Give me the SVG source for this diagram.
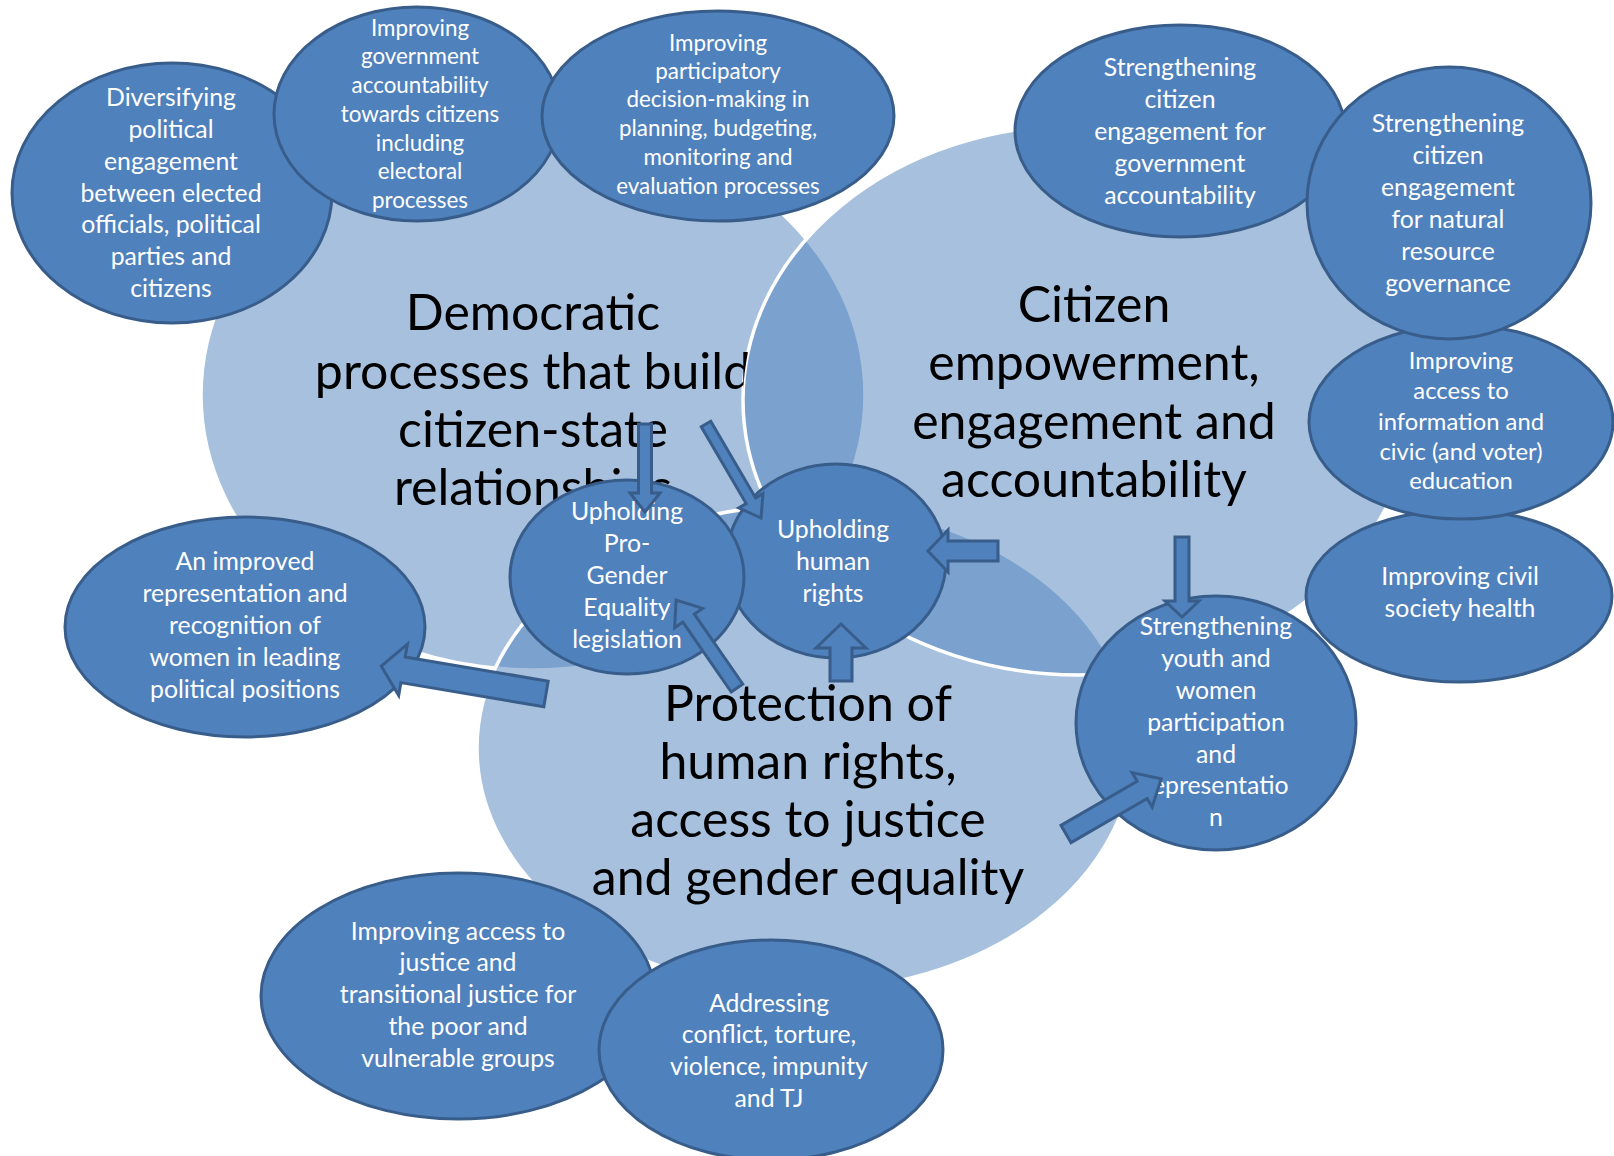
<svg xmlns="http://www.w3.org/2000/svg" width="1614" height="1156" viewBox="0 0 1614 1156">
<style>
.big{fill:#4F81BD;fill-opacity:0.5;stroke:#FFFFFF;stroke-width:3.5}
.nd{fill:#4F81BD;stroke:#385D8A;stroke-width:3}
.nt{font-family:Lato,"Liberation Sans",sans-serif;fill:#FFFFFF;text-anchor:middle;font-size:24.8px}
.ns{font-size:22.4px}
.bt{font-family:Lato,"Liberation Sans",sans-serif;fill:#000000;text-anchor:middle;font-size:50px}
.ar{fill:#4F81BD;stroke:#385D8A;stroke-width:3;stroke-linejoin:miter}
</style>
<defs>
<clipPath id="outC"><path clip-rule="evenodd" d="M0,0H1614V1156H0Z M743,400a335,275 0 1,0 670,0a335,275 0 1,0 -670,0Z"/></clipPath>
</defs>
<rect width="1614" height="1156" fill="#FFFFFF"/>
<g id="venn">
<g id="democratic">
<ellipse class="big" cx="533" cy="395" rx="332" ry="275"/>
</g>
<g id="protection">
<ellipse class="big" cx="805" cy="748" rx="328" ry="243"/>
</g>
<g id="citizen">
<ellipse class="big" cx="1078" cy="400" rx="335" ry="275"/>
</g>
<g id="venn-labels">
<text class="bt" clip-path="url(#outC)"><tspan x="533" y="330">Democratic</tspan><tspan x="533" y="389">processes that build</tspan><tspan x="533" y="447">citizen-state</tspan><tspan x="533" y="505">relationships</tspan></text>
<text class="bt"><tspan x="1094" y="322">Citizen</tspan><tspan x="1094" y="380">empowerment,</tspan><tspan x="1094" y="439">engagement and</tspan><tspan x="1094" y="497">accountability</tspan></text>
<text class="bt"><tspan x="808" y="721">Protection of</tspan><tspan x="808" y="779">human rights,</tspan><tspan x="808" y="837">access to justice</tspan><tspan x="808" y="895">and gender equality</tspan></text>
</g>
</g>
<g id="n1"><ellipse class="nd" cx="172" cy="193" rx="160" ry="130"/>
<text class="nt"><tspan x="171" y="106">Diversifying</tspan><tspan x="171" y="138">political</tspan><tspan x="171" y="170">engagement</tspan><tspan x="171" y="202">between elected</tspan><tspan x="171" y="233">officials, political</tspan><tspan x="171" y="265">parties and</tspan><tspan x="171" y="297">citizens</tspan></text></g>
<g id="n2"><ellipse class="nd" cx="417" cy="114" rx="143" ry="107"/>
<text class="nt ns"><tspan x="420" y="36">Improving</tspan><tspan x="420" y="64">government</tspan><tspan x="420" y="93">accountability</tspan><tspan x="420" y="122">towards citizens</tspan><tspan x="420" y="151">including</tspan><tspan x="420" y="179">electoral</tspan><tspan x="420" y="208">processes</tspan></text></g>
<g id="n3"><ellipse class="nd" cx="718" cy="116" rx="176" ry="105"/>
<text class="nt ns"><tspan x="718" y="51">Improving</tspan><tspan x="718" y="79">participatory</tspan><tspan x="718" y="107">decision-making in</tspan><tspan x="718" y="136">planning, budgeting,</tspan><tspan x="718" y="165">monitoring and</tspan><tspan x="718" y="194">evaluation processes</tspan></text></g>
<g id="n4"><ellipse class="nd" cx="1180" cy="131" rx="165" ry="106"/>
<text class="nt"><tspan x="1180" y="76">Strengthening</tspan><tspan x="1180" y="108">citizen</tspan><tspan x="1180" y="140">engagement for</tspan><tspan x="1180" y="172">government</tspan><tspan x="1180" y="204">accountability</tspan></text></g>
<g id="n7"><ellipse class="nd" cx="1459" cy="596" rx="153" ry="86"/>
<text class="nt"><tspan x="1460" y="585">Improving civil</tspan><tspan x="1460" y="617">society health</tspan></text></g>
<g id="n6"><ellipse class="nd" cx="1461" cy="422" rx="152" ry="97"/>
<text class="nt" style="font-size:23.8px"><tspan x="1461" y="369">Improving</tspan><tspan x="1461" y="399">access to</tspan><tspan x="1461" y="430">information and</tspan><tspan x="1461" y="460">civic (and voter)</tspan><tspan x="1461" y="489">education</tspan></text></g>
<g id="n5"><ellipse class="nd" cx="1449" cy="203" rx="142" ry="136"/>
<text class="nt"><tspan x="1448" y="132">Strengthening</tspan><tspan x="1448" y="164">citizen</tspan><tspan x="1448" y="196">engagement</tspan><tspan x="1448" y="228">for natural</tspan><tspan x="1448" y="260">resource</tspan><tspan x="1448" y="292">governance</tspan></text></g>
<g id="n8"><ellipse class="nd" cx="1216" cy="723" rx="140" ry="127"/>
<text class="nt"><tspan x="1216" y="635">Strengthening</tspan><tspan x="1216" y="667">youth and</tspan><tspan x="1216" y="699">women</tspan><tspan x="1216" y="731">participation</tspan><tspan x="1216" y="763">and</tspan><tspan x="1216" y="794">representatio</tspan><tspan x="1216" y="826">n</tspan></text></g>
<g id="n9"><ellipse class="nd" cx="245" cy="627" rx="180" ry="110"/>
<text class="nt"><tspan x="245" y="570">An improved</tspan><tspan x="245" y="602">representation and</tspan><tspan x="245" y="634">recognition of</tspan><tspan x="245" y="666">women in leading</tspan><tspan x="245" y="698">political positions</tspan></text></g>
<g id="n11"><ellipse class="nd" cx="836" cy="561" rx="110" ry="97"/>
<text class="nt"><tspan x="833" y="538">Upholding</tspan><tspan x="833" y="570">human</tspan><tspan x="833" y="602">rights</tspan></text></g>
<g id="n10"><ellipse class="nd" cx="627" cy="577" rx="117" ry="97"/>
<text class="nt"><tspan x="627" y="520">Upholding</tspan><tspan x="627" y="552">Pro-</tspan><tspan x="627" y="584">Gender</tspan><tspan x="627" y="616">Equality</tspan><tspan x="627" y="648">legislation</tspan></text></g>
<g id="n12"><ellipse class="nd" cx="458" cy="996" rx="197" ry="123"/>
<text class="nt"><tspan x="458" y="940">Improving access to</tspan><tspan x="458" y="971">justice and</tspan><tspan x="458" y="1003">transitional justice for</tspan><tspan x="458" y="1035">the poor and</tspan><tspan x="458" y="1067">vulnerable groups</tspan></text></g>
<g id="n13"><ellipse class="nd" cx="771" cy="1050" rx="172" ry="110"/>
<text class="nt"><tspan x="769" y="1012">Addressing</tspan><tspan x="769" y="1043">conflict, torture,</tspan><tspan x="769" y="1075">violence, impunity</tspan><tspan x="769" y="1107">and TJ</tspan></text></g>
<g id="connectors">
<path class="ar" d="M0,-6.5H69V-15L88,0L69,15V6.5H0Z" transform="translate(645,424) rotate(90)"/>
<path class="ar" d="M0,-5.5H89V-14L109,0L89,14V5.5H0Z" transform="translate(706,424) rotate(59.7)"/>
<path class="ar" d="M0,-10H50V-21L70,0L50,21V10H0Z" transform="translate(998,551) rotate(180)"/>
<path class="ar" d="M0,-11H33V-25L57,0L33,25V11H0Z" transform="translate(841,681) rotate(-90)"/>
<path class="ar" d="M0,-7H85V-17L107,0L85,17V7H0Z" transform="translate(737,688) rotate(-124.7)"/>
<path class="ar" d="M0,-13H145V-26L167,0L145,26V13H0Z" transform="translate(546,694) rotate(-170.4)"/>
<path class="ar" d="M0,-7H64V-17L80,0L64,17V7H0Z" transform="translate(1182,537) rotate(90)"/>
<path class="ar" d="M0,-10H88V-20L110,0L88,20V10H0Z" transform="translate(1066,834) rotate(-30.1)"/>
</g>
</svg>
